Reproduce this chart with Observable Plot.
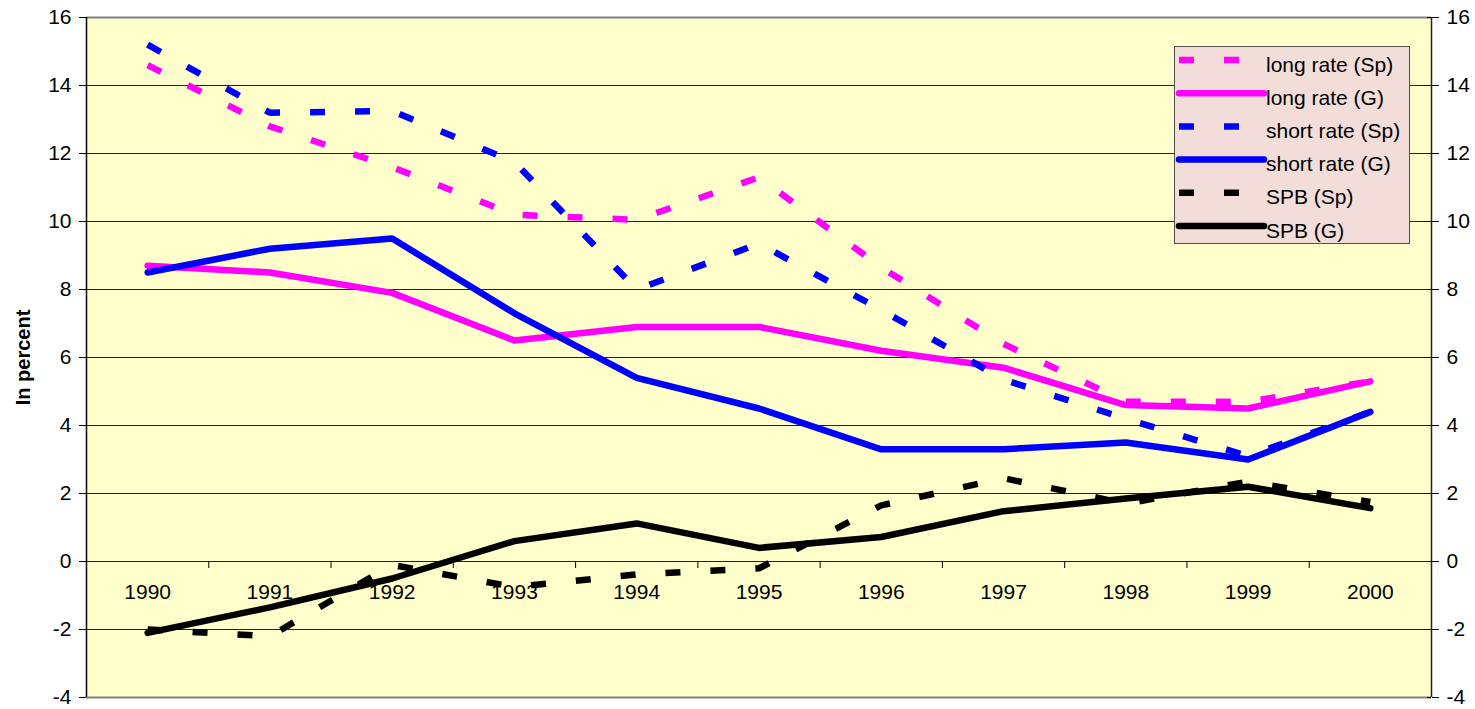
<!DOCTYPE html>
<html><head><meta charset="utf-8">
<script src="https://cdn.jsdelivr.net/npm/d3@7"></script>
<script src="https://cdn.jsdelivr.net/npm/@observablehq/plot@0.6"></script>
<style>
html,body{margin:0;padding:0;background:#fff;}
#wrap{position:relative;width:1475px;height:709px;font-family:"Liberation Sans",Arial,sans-serif;}
#legend{position:absolute;left:1174px;top:46px;width:234px;height:196px;background:#F2DDD8;border:1px solid #505050;}
#legend svg{display:block;}
</style></head><body><div id="wrap"></div>
<script>
// ---- data ----
const years = [1990, 1991, 1992, 1993, 1994, 1995, 1996, 1997, 1998, 1999, 2000];
const seriesNames = ["long rate (Sp)", "long rate (G)", "short rate (Sp)", "short rate (G)", "SPB (Sp)", "SPB (G)"];
const longRateSp  = [14.6, 12.8, 11.6, 10.2, 10.05, 11.3, 8.65, 6.4, 4.7, 4.7, 5.3];
const longRateG   = [8.7, 8.5, 7.9, 6.5, 6.9, 6.9, 6.2, 5.7, 4.6, 4.5, 5.3];
const shortRateSp = [15.2, 13.2, 13.25, 11.75, 8.0, 9.35, 7.4, 5.35, 4.2, 3.1, 4.4];
const shortRateG  = [8.5, 9.2, 9.5, 7.3, 5.4, 4.5, 3.3, 3.3, 3.5, 3.0, 4.4];
const spbSp       = [-2.0, -2.2, -0.1, -0.75, -0.38, -0.2, 1.65, 2.45, 1.7, 2.35, 1.75];
const spbG        = [-2.1, -1.35, -0.5, 0.6, 1.12, 0.4, 0.72, 1.48, 1.85, 2.2, 1.57];
const yTicks = [-4, -2, 0, 2, 4, 6, 8, 10, 12, 14, 16];
const yTitle = "In percent";

// ---- build ----
const seriesValues = [longRateSp, longRateG, shortRateSp, shortRateG, spbSp, spbG];
const rows = seriesNames.flatMap((name, s) => years.map((yr, i) => ({series: name, year: yr, value: seriesValues[s][i]})));
const style = {
  "long rate (Sp)": {color: "#FF00FF", dashed: true},
  "long rate (G)": {color: "#FF00FF", dashed: false},
  "short rate (Sp)": {color: "#0000FF", dashed: true},
  "short rate (G)": {color: "#0000FF", dashed: false},
  "SPB (Sp)": {color: "#000000", dashed: true},
  "SPB (G)": {color: "#000000", dashed: false}
};
const xMin = years[0] - 0.5, xMax = years[years.length - 1] + 0.5;
const bounds = years.slice(0, -1).map(y => y + 0.5);
const FONT = "'Liberation Sans', Arial, sans-serif";

const lineMarks = seriesNames.map(name => Plot.line(rows.filter(r => r.series === name), {
  x: "year", y: "value",
  stroke: style[name].color,
  strokeWidth: style[name].dashed ? 6.5 : 6.5,
  strokeDasharray: style[name].dashed ? "15,30" : null,
  strokeLinecap: style[name].dashed ? "butt" : "round",
  strokeLinejoin: "round"
}));

const chart = Plot.plot({
  width: 1475, height: 709,
  marginTop: 17, marginBottom: 12, marginLeft: 86, marginRight: 44,
  style: {fontFamily: FONT, fontSize: "21px", color: "#000", background: "transparent"},
  x: {domain: [xMin, xMax], axis: null},
  y: {domain: [yTicks[0], yTicks[yTicks.length - 1]], axis: "both", ticks: yTicks, tickSize: 7, tickPadding: 8, tickFormat: d => String(d), label: null},
  marks: [
    Plot.frame({fill: "#FFFFCC", stroke: null}),
    Plot.ruleY(yTicks.slice(1, -1), {stroke: "#222", strokeWidth: 1}),
    Plot.ruleY([yTicks[0], yTicks[yTicks.length - 1]], {stroke: "#808080", strokeWidth: 2}),
    Plot.ruleY(yTicks, {y: d => d, x1: xMax, x2: xMax, insetLeft: -4, stroke: "#000"}),
    Plot.ruleX([xMin], {stroke: "#000", strokeWidth: 1.5}),
    Plot.ruleX([xMax], {stroke: "#222", strokeWidth: 1.5}),
    Plot.ruleX(bounds, {x: d => d, y1: 0, y2: 0, insetBottom: -7, stroke: "#000"}),
    Plot.text(years, {x: d => d, y: 0, dy: 31, text: d => String(d), fontSize: 21}),
    Plot.text([yTitle], {frameAnchor: "left", dx: -63, rotate: -90, textAnchor: "middle", text: d => d, fontWeight: "bold", fontSize: 20}),
    ...lineMarks
  ]
});
const wrap = document.getElementById("wrap");
wrap.appendChild(chart);

// ---- legend ----
const leg = document.createElement("div");
leg.id = "legend";
wrap.appendChild(leg);
const svg = d3.select(leg).append("svg").attr("width", 234).attr("height", 196);
seriesNames.forEach((name, i) => {
  const cy = 17 + i * 33.2;
  svg.append("line").attr("x1", 4).attr("x2", 89).attr("y1", cy - 4).attr("y2", cy - 4)
    .attr("stroke", style[name].color).attr("stroke-width", 6.5)
    .attr("stroke-dasharray", style[name].dashed ? "15,30" : null)
    .attr("stroke-linecap", style[name].dashed ? "butt" : "round");
  svg.append("text").attr("x", 91).attr("y", cy).attr("dominant-baseline", "central")
    .attr("font-family", FONT).attr("font-size", 21).text(name);
});
</script></body></html>
